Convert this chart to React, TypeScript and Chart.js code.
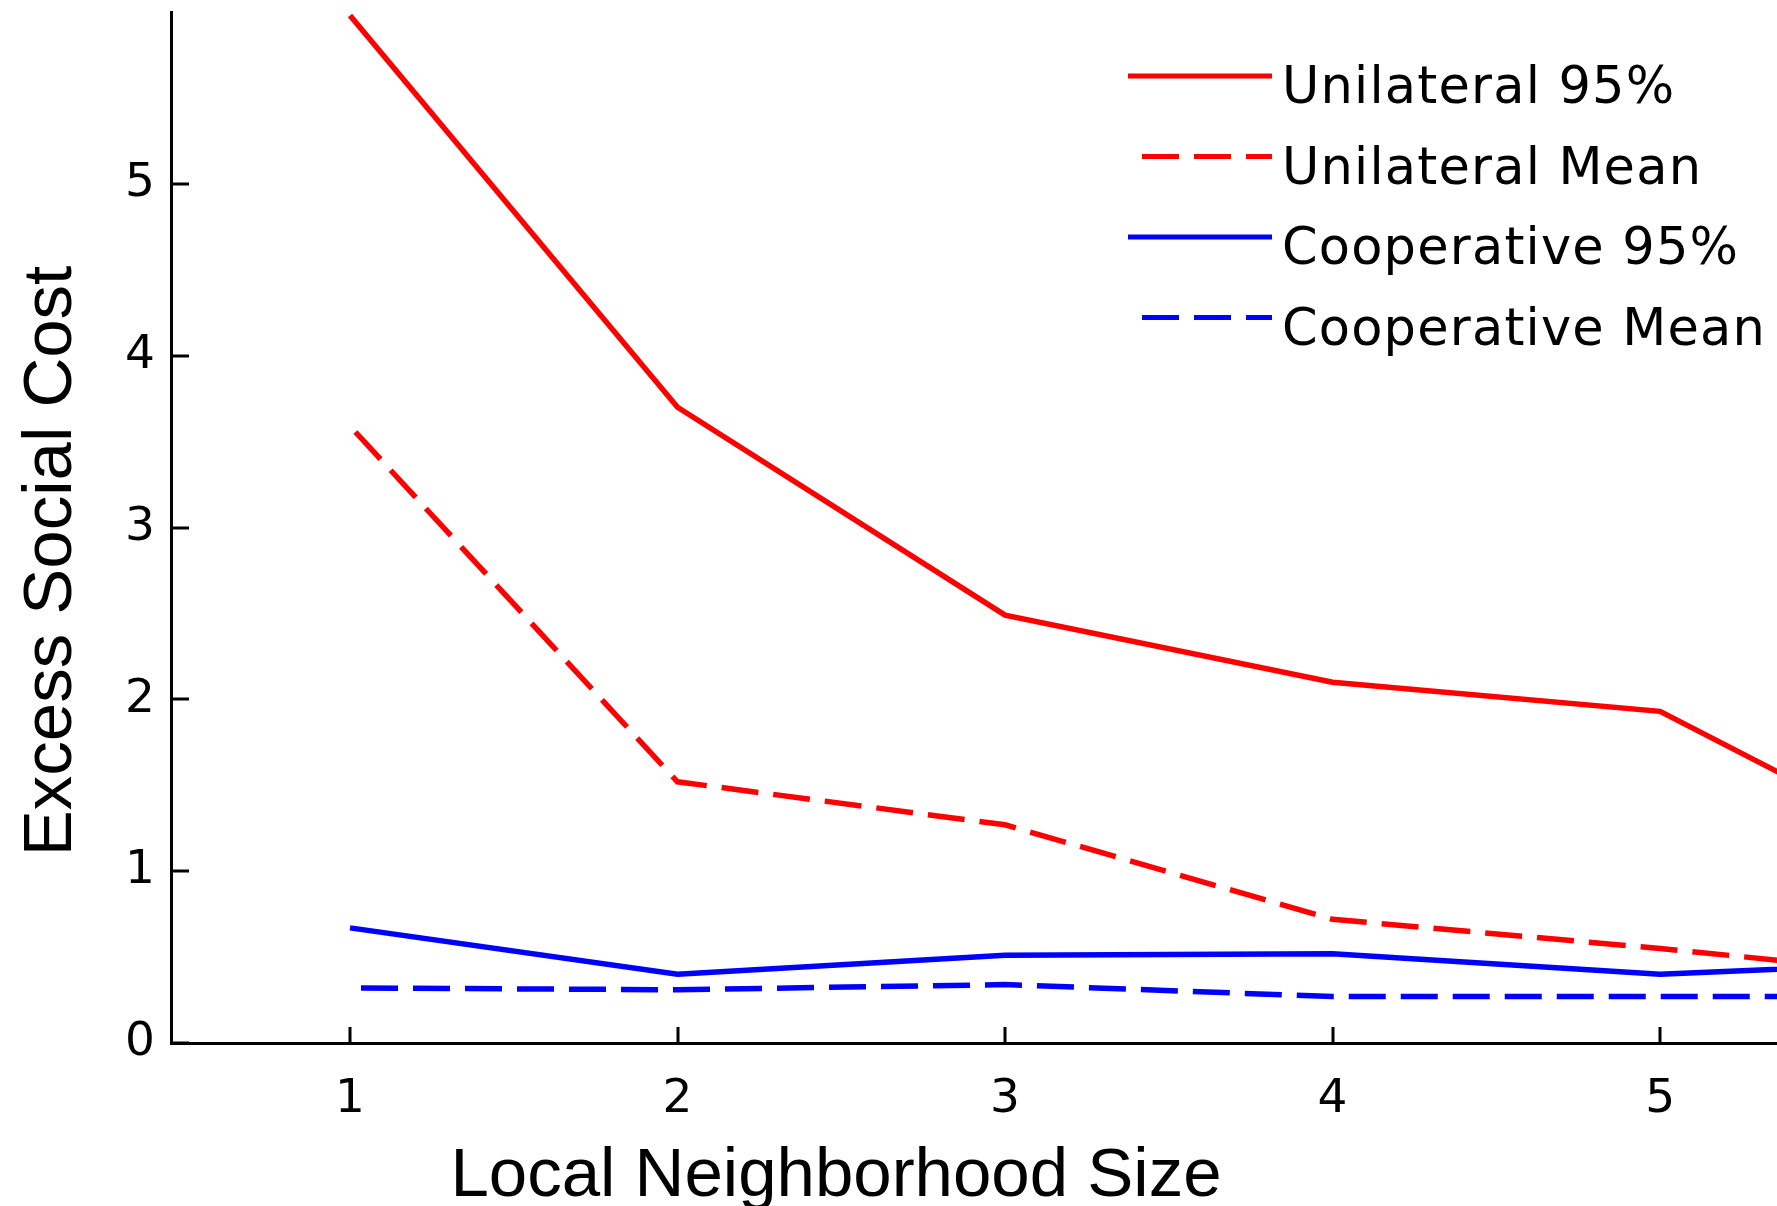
import React, { useEffect, useRef } from 'react';
import { Chart, registerables } from 'chart.js';

Chart.register(...registerables);

// ---- data ----
const neighborhoodSizes = [1, 2, 3, 4, 5, 6];
const unilateral95 = [5.98, 3.7, 2.49, 2.1, 1.93, 0.95];
const unilateralMean = [3.59, 1.52, 1.27, 0.72, 0.55, 0.36];
const cooperative95 = [0.67, 0.4, 0.51, 0.52, 0.4, 0.48];
const cooperativeMean = [0.32, 0.31, 0.34, 0.27, 0.27, 0.27];

const seriesLabels = ['Unilateral 95%', 'Unilateral Mean', 'Cooperative 95%', 'Cooperative Mean'];
const xTickValues = [1, 2, 3, 4, 5];
const yTickValues = [0, 1, 2, 3, 4, 5];
const xTitle = 'Local Neighborhood Size';
const yTitle = 'Excess Social Cost';

const W = 1777;
const H = 1206;
const RED = '#ff0000';
const BLUE = '#0000ff';
const DASH = [37, 15];
const TICK_FONT = '"DejaVu Sans", sans-serif';
const TITLE_FONT = '"Liberation Sans", Arial, sans-serif';

const toPoints = (ys: number[]) => neighborhoodSizes.map((x, i) => ({ x, y: ys[i] }));

const zeroPadding = (scale: any) => {
  scale.paddingTop = 0;
  scale.paddingBottom = 0;
  scale.paddingLeft = 0;
  scale.paddingRight = 0;
};

const decorPlugin = {
  id: 'matlabDecor',
  afterDraw(chart: any) {
    const { ctx, chartArea, scales } = chart;
    const xs = scales.x;
    const ys = scales.y;
    ctx.save();
    // inward tick marks
    ctx.strokeStyle = '#000';
    ctx.lineWidth = 3;
    ctx.lineCap = 'butt';
    ctx.beginPath();
    xTickValues.forEach((v) => {
      const px = Math.round(xs.getPixelForValue(v));
      ctx.moveTo(px, chartArea.bottom);
      ctx.lineTo(px, chartArea.bottom - 16);
    });
    yTickValues.forEach((v) => {
      const py = Math.round(ys.getPixelForValue(v));
      ctx.moveTo(chartArea.left, py);
      ctx.lineTo(chartArea.left + 18, py);
    });
    ctx.stroke();

    // axis titles
    ctx.fillStyle = '#000';
    ctx.font = `69px ${TITLE_FONT}`;
    ctx.textBaseline = 'alphabetic';
    ctx.textAlign = 'center';
    ctx.fillText(xTitle, 836, 1196);
    ctx.save();
    ctx.translate(71, 561);
    ctx.rotate(-Math.PI / 2);
    ctx.fillText(yTitle, 0, 0);
    ctx.restore();

    // legend inside plot
    const lineX0 = 1128;
    const lineX1 = 1272;
    const textX = 1282;
    chart.data.datasets.forEach((ds: any, i: number) => {
      const ly = 76 + i * 80.5;
      ctx.strokeStyle = ds.borderColor;
      ctx.lineWidth = 5;
      const dash = ds.borderDash || [];
      ctx.setLineDash(dash);
      ctx.lineDashOffset = dash.length ? 38 : 0;
      ctx.beginPath();
      ctx.moveTo(lineX0, ly);
      ctx.lineTo(lineX1, ly);
      ctx.stroke();
      ctx.setLineDash([]);
      ctx.fillStyle = '#000';
      ctx.font = `51px ${TICK_FONT}`;
      try {
        (ctx as any).letterSpacing = '1.2px';
      } catch (e) {
        /* ignore */
      }
      ctx.textAlign = 'left';
      ctx.textBaseline = 'alphabetic';
      ctx.fillText(ds.label, textX, ly + 27);
      try {
        (ctx as any).letterSpacing = '0px';
      } catch (e) {
        /* ignore */
      }
    });
    ctx.restore();
  },
};

export default function App() {
  const canvasRef = useRef<HTMLCanvasElement | null>(null);

  useEffect(() => {
    const canvas = canvasRef.current;
    if (!canvas) return;
    const common = { pointRadius: 0, borderWidth: 5.5, tension: 0, fill: false, borderCapStyle: 'butt' as const };
    const chart = new Chart(canvas, {
      type: 'line',
      data: {
        datasets: [
          { label: seriesLabels[0], data: toPoints(unilateral95), borderColor: RED, ...common },
          {
            label: seriesLabels[1],
            data: toPoints(unilateralMean),
            borderColor: RED,
            borderDash: DASH,
            borderDashOffset: 44,
            ...common,
          },
          { label: seriesLabels[2], data: toPoints(cooperative95), borderColor: BLUE, ...common },
          {
            label: seriesLabels[3],
            data: toPoints(cooperativeMean),
            borderColor: BLUE,
            borderDash: DASH,
            borderDashOffset: 41,
            ...common,
          },
        ],
      },
      options: {
        animation: false,
        responsive: false,
        devicePixelRatio: 1,
        layout: { padding: { top: 12, right: 0, bottom: 0, left: 0 } },
        plugins: { legend: { display: false }, tooltip: { enabled: false }, title: { display: false } },
        scales: {
          x: {
            type: 'linear',
            min: 0.4534,
            max: 5.357,
            grid: { display: false, drawTicks: false },
            border: { display: true, color: '#000', width: 3 },
            ticks: {
              includeBounds: false,
              color: '#000',
              font: { family: TICK_FONT, size: 47 },
              padding: 29,
              maxRotation: 0,
              autoSkip: false,
            },
            afterBuildTicks: (scale: any) => {
              scale.ticks = xTickValues.map((v) => ({ value: v }));
            },
            afterFit: (scale: any) => {
              scale.height = H - 1043;
              zeroPadding(scale);
            },
          },
          y: {
            type: 'linear',
            min: 0,
            max: 6,
            grid: { display: false, drawTicks: false },
            border: { display: true, color: '#000', width: 3 },
            ticks: {
              includeBounds: false,
              color: '#000',
              font: { family: TICK_FONT, size: 47 },
              padding: 16,
              autoSkip: false,
            },
            afterBuildTicks: (scale: any) => {
              scale.ticks = yTickValues.map((v) => ({ value: v }));
            },
            afterFit: (scale: any) => {
              scale.width = 171;
              zeroPadding(scale);
            },
          },
        },
      },
      plugins: [decorPlugin],
    });
    return () => chart.destroy();
  }, []);

  return (
    <div style={{ position: 'absolute', left: 0, top: 0, width: W, height: H, background: '#fff' }}>
      <canvas ref={canvasRef} width={W} height={H} style={{ width: W, height: H, display: 'block' }} />
    </div>
  );
}
